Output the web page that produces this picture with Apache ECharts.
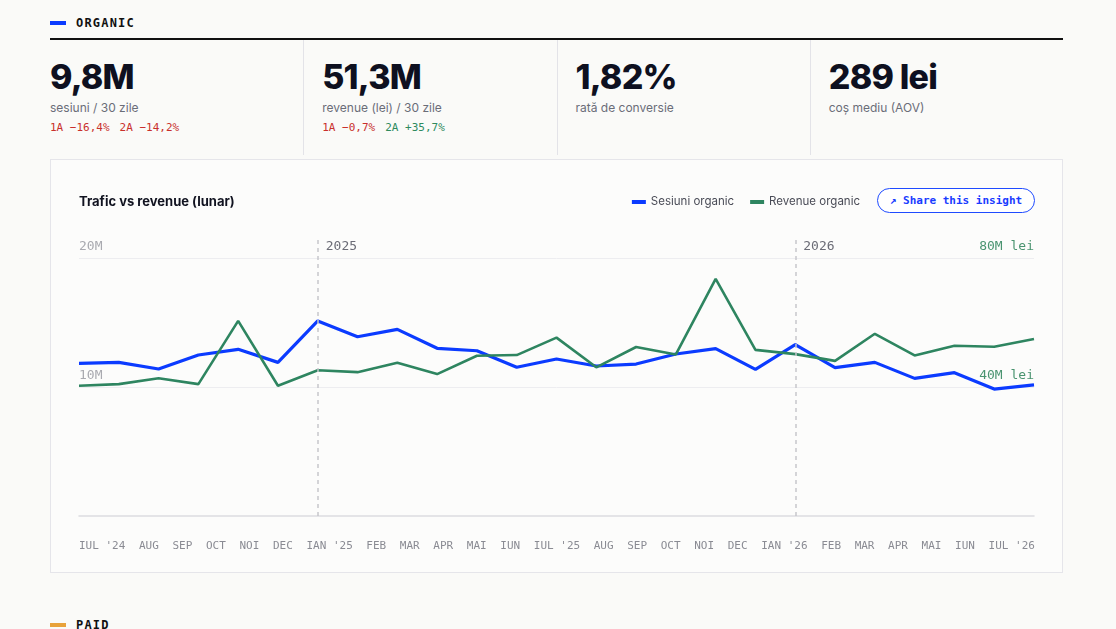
<!DOCTYPE html>
<html lang="ro">
<head>
<meta charset="utf-8">
<title>Organic</title>
<script src="https://cdn.jsdelivr.net/npm/echarts@6/dist/echarts.min.js"></script>
<style>
  body { margin: 0; background: #fafaf8; font-family: Inter, "Noto Sans", sans-serif; color: #0e1020; }
  .wrap { width: 1013px; margin-left: 50px; }
  .sec { height: 23px; padding-top: 15px; font: 700 12px/16px "DejaVu Sans Mono", monospace; letter-spacing: 1.2px; display: flex; align-items: flex-start; color: #111; }
  .sec .bar { width: 16px; height: 4px; background: #0b3bff; margin: 6px 10px 0 0; }
  .sec .bar.paid { background: #e8a23a; }
  .kpis { border-top: 2px solid #111; height: 115px; display: grid; grid-template-columns: repeat(4, 1fr); }
  .kpi { padding: 20px 0 0 18px; border-left: 1px solid #e3e3e8; }
  .kpi:first-child { padding-left: 0; border-left: none; }
  .big { font-size: 34px; line-height: 34px; font-weight: 800; letter-spacing: -0.8px; }
  .lbl { margin-top: 5px; font-size: 12px; line-height: 17px; color: #6a6d78; }
  .delta { margin-top: 5px; font: 11px/14px "DejaVu Sans Mono", monospace; }
  .delta span { margin-right: 10px; }
  .neg { color: #c9302c; }
  .pos { color: #2e8a5e; }
  .card { position: relative; margin-top: 4px; height: 414px; box-sizing: border-box; border: 1px solid #e5e5ea; background: #fcfcfb; }
  #chart { position: absolute; left: 0; top: 0; width: 1011px; height: 412px; }
  .share { position: absolute; right: 27px; top: 28px; width: 158px; height: 25px; box-sizing: border-box; border: 1px solid #1f4bff; border-radius: 13px; color: #1a3cff; font: 700 11px/23px "DejaVu Sans Mono", monospace; text-align: center; background: #fff; }
  .xlabels { position: absolute; left: 28px; right: 27px; top: 379px; display: flex; justify-content: space-between; font: 11px/14px "DejaVu Sans Mono", monospace; color: #8a8b93; }
  .paid-sec { margin-top: 29px; }
</style>
</head>
<body>
<div class="wrap">
  <div class="sec"><span class="bar"></span>ORGANIC</div>
  <div class="kpis">
    <div class="kpi"><div class="big">9,8M</div><div class="lbl">sesiuni / 30 zile</div><div class="delta"><span class="neg">1A −16,4%</span><span class="neg">2A −14,2%</span></div></div>
    <div class="kpi"><div class="big">51,3M</div><div class="lbl">revenue (lei) / 30 zile</div><div class="delta"><span class="neg">1A −0,7%</span><span class="pos">2A +35,7%</span></div></div>
    <div class="kpi"><div class="big">1,82%</div><div class="lbl">rată de conversie</div></div>
    <div class="kpi"><div class="big">289 lei</div><div class="lbl">coș mediu (AOV)</div></div>
  </div>
  <div class="card">
    <div id="chart"></div>
    <div class="share">↗ Share this insight</div>
    <div class="xlabels" id="xlabels"></div>
  </div>
  <div class="sec paid-sec"><span class="bar paid"></span>PAID</div>
</div>
<script>
// luni (iul 2024 - iul 2026)
var months = ["IUL '24", "AUG", "SEP", "OCT", "NOI", "DEC", "IAN '25", "FEB", "MAR", "APR", "MAI", "IUN",
              "IUL '25", "AUG", "SEP", "OCT", "NOI", "DEC", "IAN '26", "FEB", "MAR", "APR", "MAI", "IUN", "IUL '26"];
// sesiuni organic, milioane
var sessions = [11.84, 11.91, 11.40, 12.48, 12.92, 11.91, 15.12, 13.90, 14.47, 13.00, 12.81, 11.53,
                12.17, 11.63, 11.78, 12.56, 12.97, 11.37, 13.28, 11.50, 11.91, 10.67, 11.11, 9.84, 10.16];
// revenue organic, milioane lei
var revenue = [40.4, 40.9, 42.7, 40.9, 60.5, 40.4, 45.2, 44.6, 47.5, 44.0, 49.7, 49.9,
               55.3, 46.1, 52.4, 50.1, 73.5, 51.5, 50.2, 48.1, 56.5, 49.8, 52.8, 52.5, 54.9];
var yearAt = ["IAN '25", "IAN '26"];
var yearLabels = ["2025", "2026"];
var leftTicks = [10, 20];
var rightTicks = [40, 80];

var BLUE = '#0b3bff', GREEN = '#2e8560';
var MONO = '"DejaVu Sans Mono", monospace';

document.getElementById('xlabels').innerHTML = months.map(function (m) {
    return '<span>' + m + '</span>';
}).join('');

var myChart = echarts.init(document.getElementById('chart'));
var sessMax = 21.63, revMax = 86.51; // lasa loc deasupra liniei de 20M pentru etichetele de an

var option = {
    animation: false,
    title: {
        text: 'Trafic vs revenue (lunar)',
        left: 28,
        top: 36,
        padding: 0,
        textStyle: { fontFamily: 'Inter', fontSize: 13, fontWeight: 700, color: '#111320' }
    },
    legend: {
        right: 202,
        top: 36,
        padding: 0,
        icon: 'rect',
        itemWidth: 14,
        itemHeight: 4,
        itemGap: 16,
        textStyle: { fontFamily: 'Inter', fontSize: 11.5, color: '#4a4c57' },
        data: ['Sesiuni organic', 'Revenue organic']
    },
    grid: { left: 28, right: 28, top: 77, bottom: 56 },
    xAxis: {
        type: 'category',
        boundaryGap: false,
        data: months,
        axisLine: { lineStyle: { color: '#dcdce1', width: 1.5 } },
        axisTick: { show: false },
        axisLabel: { show: false }
    },
    yAxis: [{
        type: 'value',
        min: 0,
        max: sessMax,
        interval: 10,
        axisLine: { show: false },
        axisTick: { show: false },
        splitLine: { show: true, showMinLine: false, showMaxLine: false, lineStyle: { color: '#ededf0' } },
        axisLabel: {
            inside: true,
            margin: 0,
            align: 'left',
            verticalAlign: 'bottom',
            padding: [0, 0, 5, 0],
            fontFamily: MONO,
            fontSize: 13,
            color: '#a9aab0',
            formatter: function (v) { return leftTicks.indexOf(v) >= 0 ? v + 'M' : ''; }
        }
    }, {
        type: 'value',
        min: 0,
        max: revMax,
        interval: 40,
        position: 'right',
        axisLine: { show: false },
        axisTick: { show: false },
        splitLine: { show: false },
        axisLabel: {
            inside: true,
            margin: 0,
            align: 'right',
            verticalAlign: 'bottom',
            padding: [0, 0, 5, 0],
            fontFamily: MONO,
            fontSize: 13,
            color: '#4a9470',
            formatter: function (v) { return rightTicks.indexOf(v) >= 0 ? v + 'M lei' : ''; }
        }
    }],
    series: [{
        name: 'Sesiuni organic',
        type: 'line',
        yAxisIndex: 0,
        data: sessions,
        showSymbol: false,
        color: BLUE,
        lineStyle: { width: 3.2, color: BLUE },
        markLine: {
            silent: true,
            symbol: 'none',
            label: { show: false },
            lineStyle: { type: [4, 4], color: '#c6c6cb', width: 1.5 },
            data: yearAt.map(function (m) { return { xAxis: m }; })
        },
        markPoint: {
            silent: true,
            symbol: 'circle',
            symbolSize: 0,
            label: {
                show: true,
                position: 'right',
                distance: 8,
                offset: [0, 10],
                fontFamily: MONO,
                fontSize: 13,
                color: '#6b6c76',
                formatter: function (p) { return p.name; }
            },
            data: yearAt.map(function (m, i) {
                return { name: yearLabels[i], coord: [m, sessMax] };
            })
        }
    }, {
        name: 'Revenue organic',
        type: 'line',
        yAxisIndex: 1,
        data: revenue,
        showSymbol: false,
        color: GREEN,
        lineStyle: { width: 2.6, color: GREEN }
    }]
};
myChart.setOption(option);
window.addEventListener('resize', function () { myChart.resize(); });
</script>
</body>
</html>
